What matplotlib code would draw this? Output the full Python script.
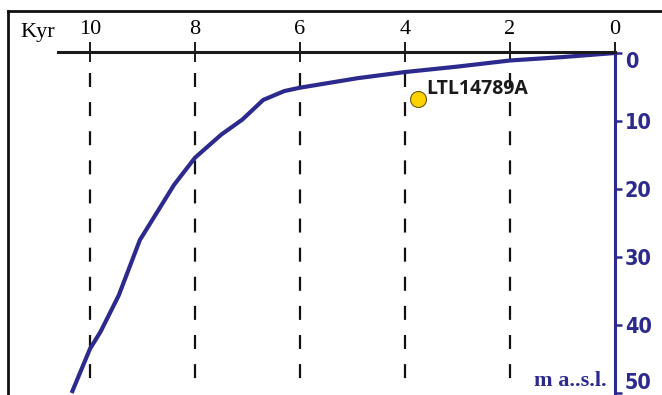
import matplotlib.pyplot as plt
from matplotlib.lines import Line2D
from matplotlib.transforms import ScaledTranslation

# relative sea level curve: age (kyr BP) vs depth (m a.s.l., plotted downward)
age_kyr = [0.0, 1.0, 2.0, 3.0, 4.0, 4.9, 6.0, 6.3, 6.7, 7.1, 7.5, 8.0, 8.4, 9.05, 9.45, 9.8, 10.0, 10.35]
depth_m = [0.0, 0.6, 1.1, 2.0, 2.8, 3.7, 5.1, 5.6, 6.9, 9.8, 12.0, 15.4, 19.4, 27.5, 35.6, 41.0, 43.5, 50.0]

sample_name = 'LTL14789A'
sample_age = [3.75]
sample_depth = [6.8]

age_ticks = [10, 8, 6, 4, 2, 0]
depth_ticks = [0, 10, 20, 30, 40, 50]

navy = '#2d2a8e'

fig = plt.figure(figsize=(6.62, 3.95), dpi=100)
W, H = 662, 395
# plot area in pixels: left 58, right 615, top 52, bottom 393
ax = fig.add_axes([58 / W, (H - 393) / H, (615 - 58) / W, (393 - 52) / H])
ax.set_xlim((615 - 58) / 52.5, 0)
ax.set_ylim(50, (52 - 53) / 6.8)
ax.patch.set_visible(False)

for s in ['left', 'bottom']:
    ax.spines[s].set_visible(False)
ax.spines['top'].set_linewidth(2.2)
ax.spines['top'].set_color('#1a1a1a')
ax.spines['right'].set_linewidth(2.2)
ax.spines['right'].set_color(navy)
ax.spines['right'].set_bounds(0, 50.5)

ax.xaxis.tick_top()
ax.set_xticks(age_ticks)
ax.set_xticklabels([str(t) for t in age_ticks], family='Liberation Serif', fontsize=16)
ax.tick_params(axis='x', direction='inout', length=14, width=1.4, color='#1a1a1a', pad=2)

ax.yaxis.tick_right()
ax.set_yticks(depth_ticks)
ax.set_yticklabels([str(t) for t in depth_ticks], family='DejaVu Sans', fontstretch='condensed',
                   fontweight='bold', fontsize=15.5, color=navy)
ax.tick_params(axis='y', direction='out', length=5, width=1.8, color=navy, pad=2)
# first and last depth labels are nudged inward so they stay clear of the edges
labels = ax.get_yticklabels()
labels[0].set_transform(labels[0].get_transform() + ScaledTranslation(0, -5 / 72, fig.dpi_scale_trans))
labels[-1].set_transform(labels[-1].get_transform() + ScaledTranslation(0, 9 / 72, fig.dpi_scale_trans))

# dashed guides under each age tick
ax.vlines(age_ticks[:-1], 2.9, 50.5, colors='#111111', linewidth=1.6,
          linestyles=(0, (6.3, 6.8)))

ax.plot(age_kyr, depth_m, color=navy, linewidth=3.0, solid_capstyle='butt', clip_on=False)

ax.plot(sample_age, sample_depth, 'o', markersize=11.5, markerfacecolor='#ffd200',
        markeredgecolor='#6b5a10', markeredgewidth=0.8)
ax.annotate(sample_name, (sample_age[0], sample_depth[0]), xytext=(6, 0),
            textcoords='offset points', fontsize=14, fontweight='bold',
            family='Open Sans', color='#1a1a1a', va='bottom')

ax.text(-0.005, 1.03, 'Kyr', transform=ax.transAxes, ha='right', va='bottom',
        family='Liberation Serif', fontsize=16)
ax.text(0.985, 0.005, 'm a..s.l.', transform=ax.transAxes, ha='right', va='bottom',
        family='Liberation Serif', fontweight='bold', fontsize=16, color=navy)

# outer frame
fig.add_artist(Line2D([8 / W, 8 / W], [0, (H - 11) / H], color='#111111', linewidth=2.0))
fig.add_artist(Line2D([8 / W, 1], [(H - 11) / H, (H - 11) / H], color='#111111', linewidth=2.0))

fig.savefig('out.png', dpi=100)
